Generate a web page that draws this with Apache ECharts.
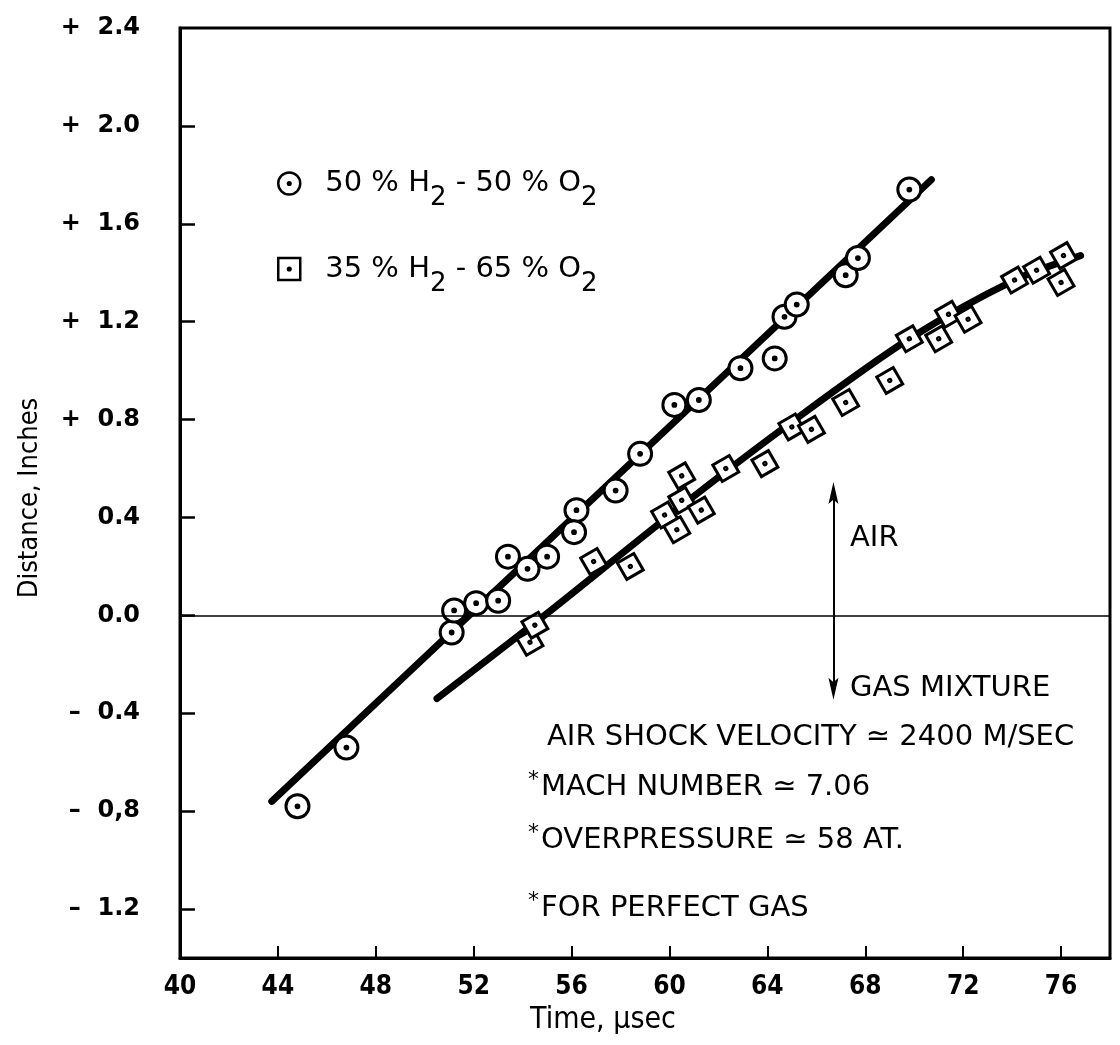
<!DOCTYPE html>
<html>
<head>
<meta charset="utf-8">
<script src="https://cdn.jsdelivr.net/npm/echarts@6/dist/echarts.min.js"></script>
<style>
  html, body { margin: 0; padding: 0; background: #fff; }
  #chart { width: 1120px; height: 1045px; }
</style>
</head>
<body>
<div id="chart"></div>
<script>
// 50 % H2 - 50 % O2 (circles)
const circleX = [44.8, 46.8, 51.1, 51.2, 52.1, 53.0, 53.4, 54.2, 55.0, 56.2, 56.1, 57.8, 58.8, 60.2, 61.2, 62.9, 64.3, 64.7, 65.2, 67.2, 67.7, 69.8];
const circleY = [-0.78, -0.54, -0.07, 0.02, 0.05, 0.06, 0.24, 0.19, 0.24, 0.43, 0.34, 0.51, 0.66, 0.86, 0.88, 1.01, 1.05, 1.22, 1.27, 1.39, 1.46, 1.74];

// 35 % H2 - 65 % O2 (squares)
const squareX = [54.3, 54.5, 56.9, 58.4, 59.8, 60.3, 60.5, 60.5, 61.3, 62.3, 63.9, 65.0, 65.8, 67.2, 69.0, 69.8, 71.0, 71.4, 72.2, 74.1, 75.0, 76.1, 76.0];
const squareY = [-0.11, -0.04, 0.22, 0.20, 0.41, 0.35, 0.47, 0.57, 0.43, 0.60, 0.62, 0.77, 0.76, 0.87, 0.96, 1.13, 1.13, 1.23, 1.21, 1.37, 1.41, 1.47, 1.36];

// hand-drawn fit lines
const fit1X = [43.75, 70.7];
const fit1Y = [-0.76, 1.78];
const fit2X = [50.5, 54.9, 60.4, 65.0, 69.8, 74.1, 76.8];
const fit2Y = [-0.34, 0.0, 0.44, 0.79, 1.13, 1.37, 1.47];

const seriesNames = ['50 % H2 - 50 % O2', '35 % H2 - 65 % O2'];

// axis ticks / labels
const xTickValues = [44, 48, 52, 56, 60, 64, 68, 72, 76];
const xLabelValues = [40, 44, 48, 52, 56, 60, 64, 68, 72, 76];
const yLabelValues = [-1.2, -0.8, -0.4, 0, 0.4, 0.8, 1.2, 1.6, 2.0, 2.4];
const yLabels = ['–  1.2', '–  0,8', '–  0.4', '0.0', '0.4', '+  0.8', '+  1.2', '+  1.6', '+  2.0', '+  2.4'];
const yTickValues = [-1.2, -0.8, -0.4, 0, 0.4, 0.8, 1.2, 1.6, 2.0];

// AIR / GAS MIXTURE arrow
const arrowX = 66.7;
const airTop = 0.5;
const gasBottom = -0.3;

const pair = (xs, ys) => xs.map((x, i) => [x, ys[i]]);

const circleSymbol = 'path://M50,0A50,50,0,1,1,50,100A50,50,0,1,1,50,0ZM50,44A6,6,0,1,1,50,56A6,6,0,1,1,50,44Z';
const squareSymbol = 'path://M0,0L100,0L100,100L0,100ZM50,44A6,6,0,1,1,50,56A6,6,0,1,1,50,44Z';
const arrowHead = 'path://M50,0L100,100L50,80L0,100Z';

const labelFont = '"DejaVu Sans Condensed", "DejaVu Sans", sans-serif';
const noteFont = '"DejaVu Sans", sans-serif';

const chart = echarts.init(document.getElementById('chart'));

const star = { st: { fontSize: 22, fontFamily: noteFont, padding: [0, 2, 14, 0] } };

const arrowEnd = (y) => ({ coord: [arrowX, y], symbol: arrowHead, symbolSize: [10, 22] });
const arrowStart = () => ({ coord: [arrowX, 0], symbol: 'none' });

const option = {
  backgroundColor: '#fff',
  animation: false,
  grid: {
    left: 180, right: 10, top: 28, bottom: 87,
    show: true, borderColor: '#000', borderWidth: 3
  },
  legend: {
    data: seriesNames,
    orient: 'vertical',
    left: 272,
    top: 164,
    itemGap: 43,
    itemWidth: 22,
    itemHeight: 22,
    symbolRotate: 0,
    itemStyle: { color: '#fff', borderColor: '#000', borderWidth: 2.5 },
    formatter: function (name) {
      const p = name.split(' - ');
      const a = p[0].replace('H2', 'H');
      const b = p[1].replace('O2', 'O');
      return '{g|}{a|' + a + '}{s|2}{a| - ' + b + '}{s|2}';
    },
    textStyle: {
      color: '#000',
      fontFamily: noteFont,
      fontSize: 29,
      rich: {
        g: { width: 20 },
        a: { fontSize: 29, fontFamily: noteFont, color: '#000' },
        s: { fontSize: 26, fontFamily: noteFont, color: '#000', padding: [30, 0, 0, 0] }
      }
    }
  },
  xAxis: {
    type: 'value',
    min: 40,
    max: 78,
    splitLine: { show: false },
    axisLine: { onZero: false, lineStyle: { color: '#000', width: 3 } },
    axisTick: { inside: true, length: 12, customValues: xTickValues, lineStyle: { color: '#000', width: 2 } },
    axisLabel: {
      customValues: xLabelValues,
      margin: 16,
      color: '#000',
      fontFamily: labelFont,
      fontWeight: 'bold',
      fontSize: 26
    }
  },
  yAxis: {
    type: 'value',
    min: -1.4,
    max: 2.4,
    splitLine: { show: false },
    axisLine: { lineStyle: { color: '#000', width: 3 } },
    axisTick: { inside: true, length: 15, customValues: yTickValues, lineStyle: { color: '#000', width: 2.5 } },
    axisLabel: {
      customValues: yLabelValues,
      margin: 40,
      color: '#000',
      fontFamily: '"DejaVu Sans", sans-serif',
      fontWeight: 'bold',
      fontSize: 24,
      formatter: function (v) {
        const i = yLabelValues.findIndex(t => Math.abs(t - v) < 1e-6);
        return i >= 0 ? yLabels[i] : '';
      }
    }
  },
  series: [
    {
      name: 'fit1',
      type: 'line',
      data: pair(fit1X, fit1Y),
      showSymbol: false,
      symbol: 'none',
      z: 2,
      lineStyle: { color: '#000', width: 7, cap: 'round' },
      markLine: {
        silent: true,
        symbol: 'none',
        label: { show: false },
        lineStyle: { color: '#000', width: 1.6, type: 'solid' },
        data: [{ yAxis: 0 }]
      }
    },
    {
      name: 'fit2',
      type: 'line',
      data: pair(fit2X, fit2Y),
      smooth: 0.3,
      showSymbol: false,
      symbol: 'none',
      z: 2,
      lineStyle: { color: '#000', width: 7, cap: 'round' }
    },
    {
      name: seriesNames[0],
      type: 'scatter',
      data: pair(circleX, circleY),
      symbol: circleSymbol,
      symbolSize: 23,
      z: 4,
      itemStyle: { color: '#fff', borderColor: '#000', borderWidth: 3, opacity: 1 },
      markLine: {
        silent: true,
        symbol: ['none', 'arrow'],
        label: { show: false },
        itemStyle: { color: '#000', borderWidth: 0 },
        lineStyle: { color: '#000', width: 2, type: 'solid' },
        data: [
          [arrowStart(), arrowEnd(airTop)],
          [arrowStart(), arrowEnd(gasBottom)]
        ]
      }
    },
    {
      name: seriesNames[1],
      type: 'scatter',
      data: pair(squareX, squareY),
      symbol: squareSymbol,
      symbolSize: 19,
      symbolRotate: 30,
      z: 4,
      itemStyle: { color: '#fff', borderColor: '#000', borderWidth: 3, opacity: 1 }
    }
  ],
  graphic: [
    {
      type: 'text', x: 30, y: 498, rotation: Math.PI / 2,
      style: { text: 'Distance, Inches', font: '27px ' + labelFont, fill: '#000', align: 'center', verticalAlign: 'middle' }
    },
    {
      type: 'text', x: 603, y: 1020,
      style: { text: 'Time, µsec', font: '30px ' + labelFont, fill: '#000', align: 'center', verticalAlign: 'middle' }
    },
    {
      type: 'text', x: 850, y: 538,
      style: { text: 'AIR', font: '29px ' + noteFont, fill: '#000', verticalAlign: 'middle' }
    },
    {
      type: 'text', x: 850, y: 688,
      style: { text: 'GAS MIXTURE', font: '29px ' + noteFont, fill: '#000', verticalAlign: 'middle' }
    },
    {
      type: 'text', x: 547, y: 737,
      style: { text: 'AIR SHOCK VELOCITY ≃ 2400 M/SEC', font: '29px ' + noteFont, fill: '#000', verticalAlign: 'middle' }
    },
    {
      type: 'text', x: 528, y: 787,
      style: { text: '{st|*}MACH NUMBER ≃ 7.06', fill: '#000', verticalAlign: 'middle', font: '29px ' + noteFont, rich: star }
    },
    {
      type: 'text', x: 528, y: 840,
      style: { text: '{st|*}OVERPRESSURE ≃ 58 AT.', fill: '#000', verticalAlign: 'middle', font: '29px ' + noteFont, rich: star }
    },
    {
      type: 'text', x: 528, y: 908,
      style: { text: '{st|*}FOR PERFECT GAS', fill: '#000', verticalAlign: 'middle', font: '29px ' + noteFont, rich: star }
    }
  ]
};

chart.setOption(option);
</script>
</body>
</html>
